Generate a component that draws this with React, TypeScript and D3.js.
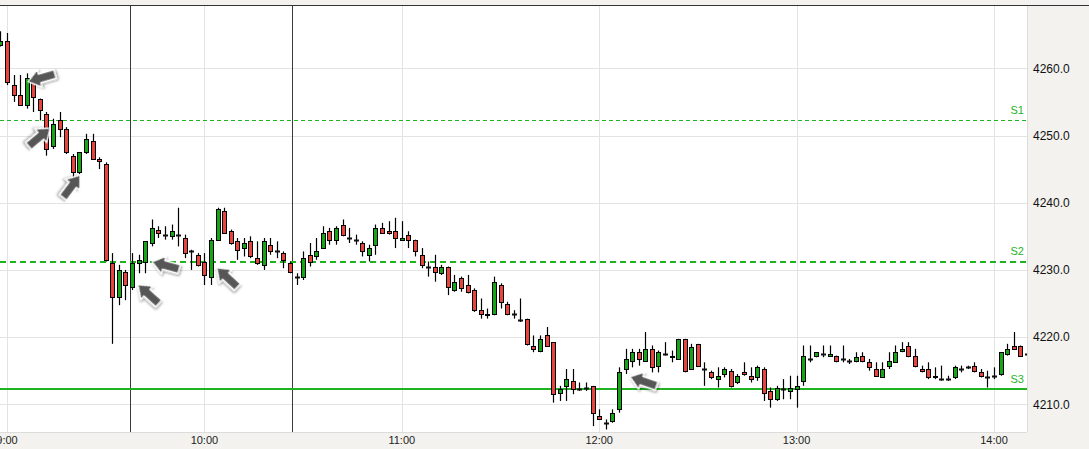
import React from "react";
import * as d3 from "d3";

// ---------- data ----------
type Bar = [number, number, number, number]; // open, high, low, close

// 2-minute bars, each list starts at the given clock time
const bars0858: Bar[] = [
  [4263.5, 4265.5, 4263.25, 4264], [4264, 4265.25, 4257.5, 4258], [4257.5, 4259, 4255, 4256],
  [4256, 4259, 4254.5, 4254.5], [4254.5, 4259.25, 4254, 4258.5], [4258.5, 4258.75, 4253.5, 4255.75],
  [4255.5, 4255.5, 4252.25, 4253.75], [4253.25, 4253.5, 4247, 4248], [4248.5, 4252.5, 4248, 4251.75],
  [4252.25, 4253.5, 4249.75, 4251], [4251, 4251.25, 4247.25, 4247.5], [4247, 4247.25, 4243, 4244.5],
  [4244.5, 4247.5, 4244.25, 4247.5], [4247.5, 4250.25, 4247.25, 4249.5], [4249.25, 4250.25, 4246.5, 4246.5],
  [4246.5, 4246.75, 4245, 4246.25], [4245.75, 4246, 4231.25, 4231.5], [4231, 4232.5, 4219, 4226],
  [4226, 4230.75, 4224.75, 4230], [4229.75, 4230, 4225.5, 4227.75], [4227.5, 4232.5, 4227, 4231],
  [4231, 4232.25, 4229.5, 4231.5], [4231.25, 4234.25, 4229.5, 4234.25], [4234, 4237.5, 4233.5, 4236.25],
  [4236, 4236.5, 4234.75, 4235.5], [4235.25, 4236.5, 4234.5, 4235.25], [4235, 4236.75, 4234.5, 4235.75],
  [4235.25, 4239.25, 4233.5, 4235.25], [4234.75, 4235.25, 4231.75, 4232.5], [4232.75, 4233, 4230, 4232.75],
  [4232.25, 4232.5, 4230.5, 4230.75],
];
const bars1000: Bar[] = [
  [4231.25, 4232.5, 4227.75, 4229.25], [4229, 4234.75, 4227.75, 4234.5], [4234.5, 4239.25, 4234.5, 4239],
  [4238.75, 4239.25, 4235.5, 4235.5], [4235.75, 4236, 4233.75, 4234], [4234.25, 4234.75, 4231.5, 4233],
  [4233.25, 4234.75, 4232, 4234], [4234.25, 4235, 4231.75, 4232], [4231.75, 4234.25, 4230.75, 4231],
  [4230.75, 4234.75, 4230, 4234.25], [4233.75, 4234.75, 4232.25, 4232.75], [4232.75, 4234.25, 4231.75, 4232.75],
  [4232.5, 4232.75, 4230.25, 4231.5], [4231, 4231.25, 4229.5, 4229.75], [4229, 4229.5, 4227.75, 4229],
  [4229, 4232.75, 4228.5, 4231.75], [4232.25, 4234, 4230.5, 4231.25], [4232, 4234.75, 4231.5, 4232.75],
  [4233.25, 4236.5, 4233.25, 4235.5], [4235.75, 4236.25, 4233.75, 4234.5], [4234.5, 4236.5, 4233.75, 4236.25],
  [4236.75, 4237.5, 4235, 4235.25], [4234.75, 4236.25, 4234, 4234.75], [4234.5, 4235.25, 4233.75, 4234.5],
  [4234, 4234.25, 4232, 4232.75], [4232.25, 4233.75, 4231.25, 4233.25], [4233.75, 4236.75, 4232.25, 4236.25],
  [4236.25, 4237, 4235.5, 4235.5], [4235.75, 4237.25, 4235.25, 4235.5], [4235.75, 4237.75, 4233.25, 4234.75],
];
const bars1100: Bar[] = [
  [4234.5, 4237.25, 4234.5, 4234.75], [4235.25, 4235.75, 4233.25, 4234.5], [4234.5, 4234.5, 4232, 4232.75],
  [4232.25, 4233.25, 4230.25, 4230.75], [4230.5, 4231.25, 4229, 4230.5], [4230.5, 4232.25, 4228.25, 4229.75],
  [4229.5, 4230.75, 4229.25, 4230.5], [4230.5, 4230.5, 4226.25, 4227.5], [4227, 4229.25, 4226.75, 4228.25],
  [4228.75, 4229, 4226.75, 4227.25], [4227.75, 4229.25, 4226.5, 4226.75], [4227, 4227.25, 4223.75, 4224],
  [4224, 4225.75, 4222.75, 4223.5], [4223.5, 4224.25, 4222.75, 4223.25], [4223.5, 4229, 4223.25, 4228.25],
  [4227.75, 4228, 4224.25, 4225.25], [4225, 4225.25, 4223.25, 4223.5], [4223.5, 4224, 4222.75, 4223.5],
  [4222.5, 4225.75, 4222.25, 4222.5], [4222.75, 4222.75, 4218.75, 4219], [4218.75, 4220.25, 4217.75, 4218.25],
  [4218, 4220.25, 4217.75, 4219.75], [4220.25, 4221.5, 4218.75, 4218.75], [4219.25, 4219.25, 4210.25, 4211.5],
  [4211.75, 4212.75, 4210.5, 4212.25], [4212.75, 4215.25, 4210.5, 4213.75], [4213.5, 4215.25, 4211.5, 4212.25],
  [4212.25, 4213.25, 4212, 4212.25], [4212.5, 4213.25, 4212, 4212.5], [4212.75, 4212.75, 4206.75, 4208.75],
];
const bars1200: Bar[] = [
  [4208.25, 4209.25, 4207.75, 4207.75], [4207.25, 4207.75, 4206.25, 4207.25], [4207.5, 4209.25, 4207.25, 4208.75],
  [4209.25, 4215.5, 4208.75, 4214.75], [4215.25, 4218.25, 4214.5, 4216.75], [4216.5, 4218.25, 4215.5, 4217.75],
  [4217.75, 4218.25, 4215.75, 4216.75], [4216.5, 4220.75, 4216.5, 4218.25], [4218.25, 4218.75, 4214.75, 4215.5],
  [4215.75, 4218, 4214.75, 4217.75], [4217.5, 4219.25, 4217.25, 4217.5], [4217.25, 4218, 4216.25, 4217],
  [4216.75, 4219.75, 4216.75, 4219.75], [4219.75, 4219.75, 4214.75, 4215], [4215.25, 4219, 4215.25, 4218.5],
  [4219, 4219, 4215.75, 4215.75], [4215.25, 4216.25, 4212.75, 4215.25], [4214.75, 4215, 4213.75, 4214],
  [4213.75, 4215.5, 4212.5, 4214.25], [4214.5, 4215.5, 4214, 4215.25], [4215, 4215.25, 4212.5, 4212.75],
  [4213.25, 4214.5, 4213, 4214.25], [4214.75, 4216.25, 4214.25, 4214.5], [4214.25, 4215.5, 4213.25, 4213.75],
  [4214, 4215.75, 4213.5, 4215.5], [4215.25, 4215.5, 4210.5, 4211.75], [4212, 4212.5, 4209.5, 4210.75],
  [4210.75, 4212.75, 4210.5, 4212.5], [4212.25, 4213.75, 4210.75, 4212.25], [4212, 4214.25, 4210.75, 4212.5],
];
const bars1300: Bar[] = [
  [4212.25, 4214.25, 4209.5, 4212.75], [4213.5, 4218.75, 4212.75, 4217.25], [4216.75, 4218.75, 4216.25, 4216.75],
  [4217.25, 4217.75, 4217, 4217.75], [4217.5, 4218.75, 4217, 4217.5], [4217.25, 4218.75, 4217.25, 4217.5],
  [4217.25, 4217.25, 4216.25, 4216.5], [4216.75, 4218.75, 4216.25, 4216.75], [4216.5, 4216.75, 4216, 4216.5],
  [4216.5, 4217.75, 4216.25, 4217], [4217.25, 4217.75, 4216.25, 4216.5], [4216.25, 4216.75, 4215, 4215.5],
  [4215.25, 4216.25, 4214.25, 4214.25], [4214, 4216.25, 4214, 4215.25], [4215.75, 4217.75, 4215.25, 4216.5],
  [4216.25, 4218.75, 4216.25, 4217.75], [4218, 4219.25, 4217.75, 4218.25], [4218.75, 4219.25, 4217, 4217.25],
  [4217.25, 4218.25, 4215.5, 4215.75], [4215.25, 4215.75, 4214.75, 4215], [4215.25, 4216.25, 4213.75, 4214],
  [4214.25, 4215.5, 4213.75, 4214], [4213.75, 4215.75, 4213.5, 4213.75], [4213.75, 4214.25, 4213.5, 4213.75],
  [4214, 4215.75, 4213.75, 4215.5], [4215.25, 4215.75, 4214.75, 4215.25], [4215.5, 4215.75, 4215.25, 4215.5],
  [4215.75, 4216.25, 4214.75, 4215], [4214.75, 4215.25, 4214, 4214.25], [4214, 4215, 4212.5, 4214],
];
const bars1400: Bar[] = [
  [4214.25, 4215.5, 4213.75, 4214.25], [4214.5, 4217.75, 4214.25, 4217.75], [4217.5, 4219, 4217.25, 4218.25],
  [4218.75, 4220.75, 4218.25, 4218.25], [4218.75, 4218.75, 4217.25, 4217.25], [4217.5, 4217.5, 4217.25, 4217.5],
];
const barGroups: { start: string; bars: Bar[] }[] = [
  { start: "08:58", bars: bars0858 },
  { start: "10:00", bars: bars1000 },
  { start: "11:00", bars: bars1100 },
  { start: "12:00", bars: bars1200 },
  { start: "13:00", bars: bars1300 },
  { start: "14:00", bars: bars1400 },
];
const barMinutes = 2;

const priceTicks = [4210, 4220, 4230, 4240, 4250, 4260];
const timeTicks = ["9:00", "10:00", "11:00", "12:00", "13:00", "14:00"];

const levelNames = ["S1", "S2", "S3"];
const levelPrices = [4252.25, 4231.25, 4212.25];
const levelKinds = ["thinDash", "thickDash", "solid"];

const markerTimes = ["9:37:24", "10:26:36"];

// arrows: tip time, tip price, direction from tip to tail (deg)
const arrowTimes = ["9:06:24", "9:13:06", "9:22:12", "9:39:48", "9:44:06", "10:03:48", "12:09:24"];
const arrowPrices = [4258.0, 4251.1, 4244.1, 4227.8, 4231.2, 4230.3, 4214.1];
const arrowAngles = [-16, 140, 127, 42, 15, 43, 19];

// ---------- helpers ----------
const toMin = (s: string) => {
  const p = s.split(":").map(Number);
  return p[0] * 60 + p[1] + (p[2] || 0) / 60;
};

const W = 1089;
const H = 449;
const PL = 0, PT = 6, PR = 1027, PB = 432;

const GREEN = "#16a516";
const RED = "#e6443c";
const LEVEL = "#1fb41f";

export default function App() {
  const x = d3.scaleLinear().domain([toMin("9:00"), toMin("14:00")]).range([7, 994]);
  const y = d3.scaleLinear().domain([4210, 4260]).range([404.3, 68.3]);

  const candles: { t: number; o: number; h: number; l: number; c: number }[] = [];
  barGroups.forEach((g) => {
    const s = toMin(g.start);
    g.bars.forEach((b, i) => candles.push({ t: s + i * barMinutes, o: b[0], h: b[1], l: b[2], c: b[3] }));
  });

  const arrowPath = "M0,0 L12,-9 L12,-4.5 L28,-4.5 L28,4.5 L12,4.5 L12,9 Z";

  return (
    <svg
      width={W}
      height={H}
      style={{ position: "absolute", left: 0, top: 0, display: "block", background: "#f3f2ee" }}
      fontFamily="'Liberation Sans', Arial, sans-serif"
    >
      <defs>
        <clipPath id="plotClip">
          <rect x={PL} y={PT} width={PR - PL} height={PB - PT} />
        </clipPath>
        <filter id="shadow" x="-50%" y="-50%" width="200%" height="200%">
          <feDropShadow dx="1.5" dy="1.5" stdDeviation="1.3" floodColor="#000" floodOpacity="0.4" />
        </filter>
      </defs>

      {/* plot background */}
      <rect x={PL} y={PT} width={PR - PL} height={PB - PT} fill="#ffffff" />

      <g clipPath="url(#plotClip)">
        {/* grid */}
        {priceTicks.map((p) => (
          <line key={"gy" + p} x1={PL} x2={PR} y1={Math.round(y(p)) + 0.5} y2={Math.round(y(p)) + 0.5} stroke="#e3e3e3" strokeWidth={1} />
        ))}
        {timeTicks.map((t) => (
          <line key={"gx" + t} y1={PT} y2={PB} x1={Math.round(x(toMin(t))) + 0.5} x2={Math.round(x(toMin(t))) + 0.5} stroke="#e3e3e3" strokeWidth={1} />
        ))}

        {/* session markers */}
        {markerTimes.map((t) => (
          <line key={"m" + t} y1={PT} y2={PB} x1={Math.round(x(toMin(t))) + 0.5} x2={Math.round(x(toMin(t))) + 0.5} stroke="#3a3a3a" strokeWidth={1} />
        ))}

        {/* levels */}
        {levelPrices.map((p, i) => {
          const yy = Math.round(y(p)) + (levelKinds[i] === "thinDash" ? 0.5 : 0);
          const kind = levelKinds[i];
          return (
            <line
              key={"lv" + i}
              x1={PL}
              x2={PR}
              y1={yy}
              y2={yy}
              stroke={LEVEL}
              strokeWidth={kind === "thinDash" ? 1 : 2}
              strokeDasharray={kind === "thinDash" ? "4,3" : kind === "thickDash" ? "6,4" : undefined}
            />
          );
        })}

        {/* candles */}
        {candles.map((d, i) => {
          const cx = Math.round(x(d.t)) + 0.5;
          const yo = y(d.o), yc = y(d.c);
          const top = Math.round(Math.min(yo, yc)) + 0.5;
          const bot = Math.round(Math.max(yo, yc)) + 0.5;
          const doji = d.o === d.c;
          return (
            <g key={"c" + i}>
              <line x1={cx} x2={cx} y1={y(d.h)} y2={y(d.l)} stroke="#000" strokeWidth={1.2} />
              {doji ? (
                <rect x={cx - 2.5} y={top - 1} width={5} height={2} fill="#111" />
              ) : (
                <rect
                  x={cx - 2}
                  y={top}
                  width={4}
                  height={Math.max(1, bot - top)}
                  fill={d.c > d.o ? GREEN : RED}
                  stroke="#000"
                  strokeWidth={1}
                />
              )}
            </g>
          );
        })}

        {/* level labels */}
        {levelPrices.map((p, i) => (
          <text key={"ll" + i} x={1024} y={y(p) - 6.5} fill={LEVEL} fontSize={11} textAnchor="end">
            {levelNames[i]}
          </text>
        ))}

        {/* arrows */}
        {arrowTimes.map((t, i) => (
          <path
            key={"a" + i}
            d={arrowPath}
            transform={`translate(${x(toMin(t))},${y(arrowPrices[i])}) rotate(${arrowAngles[i]})`}
            fill="#565656"
            stroke="#ffffff"
            strokeWidth={1.3}
            strokeLinejoin="round"
            filter="url(#shadow)"
          />
        ))}
      </g>

      {/* frame */}
      <line x1={PR + 0.5} x2={PR + 0.5} y1={PT} y2={PB} stroke="#dcdcdc" />
      <line x1={PL} x2={PR} y1={PB + 0.5} y2={PB + 0.5} stroke="#dcdcdc" />
      <line x1={0} x2={W} y1={5.5} y2={5.5} stroke="#333" strokeWidth={1.2} />

      {/* y axis labels */}
      {priceTicks.map((p) => (
        <text key={"yl" + p} x={1033} y={y(p)} dy="0.36em" fontSize={12} fill="#111">
          {p.toFixed(1)}
        </text>
      ))}

      {/* x axis labels */}
      {timeTicks.map((t) => (
        <text key={"xl" + t} x={x(toMin(t))} y={444} fontSize={11} fill="#222" textAnchor="middle">
          {t}
        </text>
      ))}
    </svg>
  );
}
